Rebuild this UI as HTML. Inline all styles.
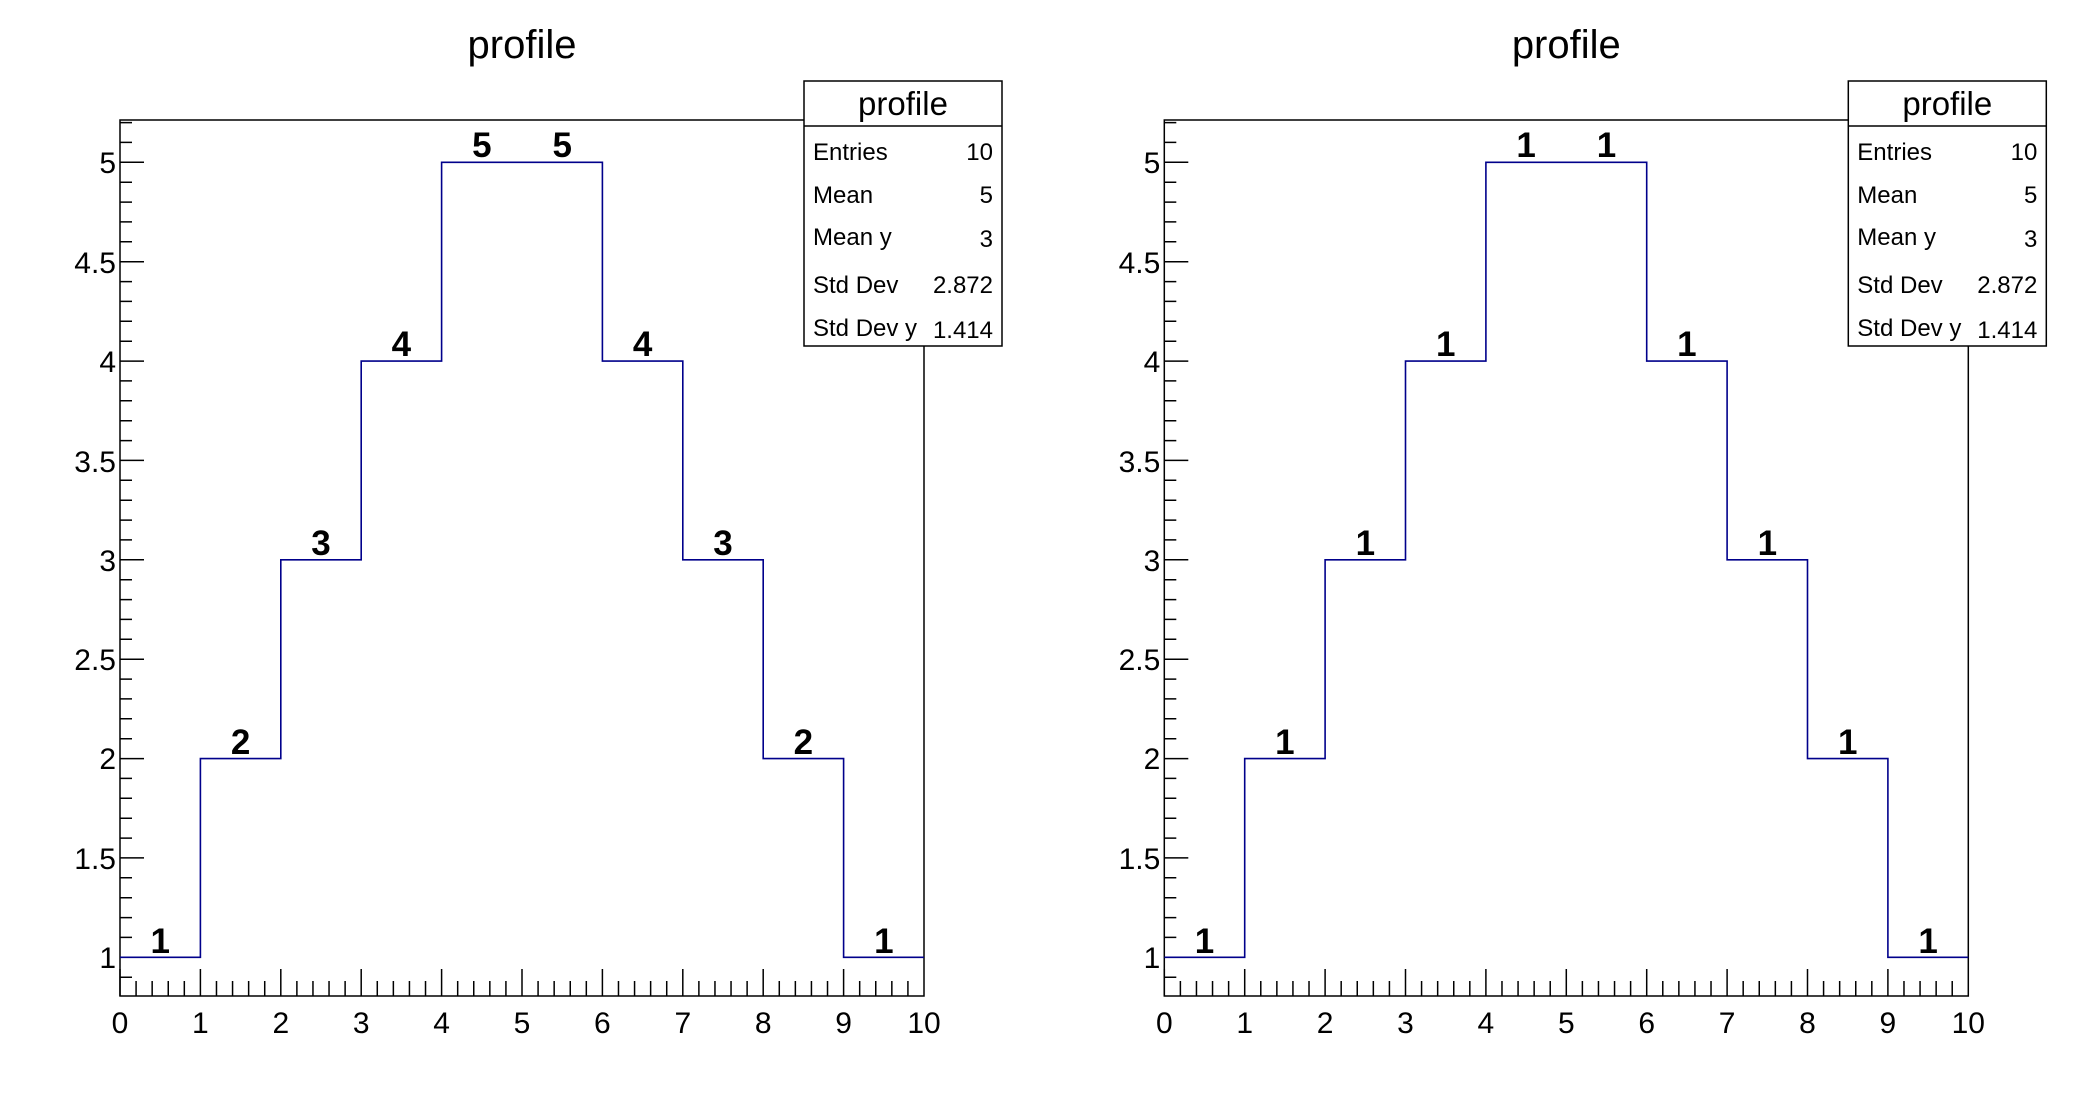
<!DOCTYPE html>
<html><head><meta charset="utf-8"><style>
html,body{margin:0;padding:0;background:#fff;}
svg{display:block;font-family:"Liberation Sans",Arial,sans-serif;}
</style></head><body>
<svg width="2088" height="1116" viewBox="0 0 2088 1116" xmlns="http://www.w3.org/2000/svg">
<defs>
<g id="u" stroke="#000" stroke-width="1.5">
<line x1="0" y1="996" x2="0" y2="969"/>
<line x1="16.08" y1="996" x2="16.08" y2="981"/>
<line x1="32.16" y1="996" x2="32.16" y2="981"/>
<line x1="48.24" y1="996" x2="48.24" y2="981"/>
<line x1="64.32" y1="996" x2="64.32" y2="981"/>
</g>
<g id="axes">
<rect x="120" y="120" width="804" height="876" fill="none" stroke="#000" stroke-width="1.5"/>
<use href="#u" x="120"/><use href="#u" x="200.4"/><use href="#u" x="280.8"/><use href="#u" x="361.2"/><use href="#u" x="441.6"/><use href="#u" x="522"/><use href="#u" x="602.4"/><use href="#u" x="682.8"/><use href="#u" x="763.2"/><use href="#u" x="843.6"/>
<path stroke="#000" stroke-width="1.5" fill="none" d="M120,977.2h12 M120,957.3h24 M120,937.4h12 M120,917.6h12 M120,897.7h12 M120,877.8h12 M120,857.9h24 M120,838.1h12 M120,818.2h12 M120,798.3h12 M120,778.4h12 M120,758.6h24 M120,738.7h12 M120,718.8h12 M120,698.9h12 M120,679.1h12 M120,659.2h24 M120,639.3h12 M120,619.4h12 M120,599.6h12 M120,579.7h12 M120,559.8h24 M120,539.9h12 M120,520.1h12 M120,500.2h12 M120,480.3h12 M120,460.4h24 M120,440.6h12 M120,420.7h12 M120,400.8h12 M120,380.9h12 M120,361.1h24 M120,341.2h12 M120,321.3h12 M120,301.4h12 M120,281.6h12 M120,261.7h24 M120,241.8h12 M120,221.9h12 M120,202.1h12 M120,182.2h12 M120,162.3h24 M120,142.4h12 M120,122.6h12"/>
<path stroke="#00008b" stroke-width="1.6" fill="none" d="M120,957.3 H200.4 V758.6 H280.8 V559.8 H361.2 V361.1 H441.6 V162.3 H602.4 V361.1 H682.8 V559.8 H763.2 V758.6 H843.6 V957.3 H924"/>
<g font-size="30" text-anchor="middle" fill="#000">
<text x="120" y="1033">0</text><text x="200.4" y="1033">1</text><text x="280.8" y="1033">2</text><text x="361.2" y="1033">3</text><text x="441.6" y="1033">4</text><text x="522" y="1033">5</text><text x="602.4" y="1033">6</text><text x="682.8" y="1033">7</text><text x="763.2" y="1033">8</text><text x="843.6" y="1033">9</text><text x="924" y="1033">10</text>
</g>
<g font-size="30" text-anchor="end" fill="#000">
<text x="116" y="968">1</text><text x="116" y="869">1.5</text><text x="116" y="769">2</text><text x="116" y="670">2.5</text><text x="116" y="571">3</text><text x="116" y="472">3.5</text><text x="116" y="372">4</text><text x="116" y="273">4.5</text><text x="116" y="173">5</text>
</g>
<text x="522" y="58" font-size="40" text-anchor="middle">profile</text>
<rect x="804" y="81" width="198" height="265" fill="#fff" stroke="#000" stroke-width="1.5"/>
<line x1="804" y1="126" x2="1002" y2="126" stroke="#000" stroke-width="1.5"/>
<text x="903" y="115" font-size="33" text-anchor="middle">profile</text>
<g font-size="24">
<text x="813" y="160">Entries</text><text x="813" y="203">Mean</text><text x="813" y="245">Mean y</text><text x="813" y="293">Std Dev</text><text x="813" y="336">Std Dev y</text>
</g>
<g font-size="24" text-anchor="end">
<text x="993" y="160">10</text><text x="993" y="203">5</text><text x="993" y="247">3</text><text x="993" y="293">2.872</text><text x="993" y="338">1.414</text>
</g>
</g>
</defs>
<use href="#axes"/>
<g font-size="35" font-weight="bold" text-anchor="middle">
<text x="160.2" y="953">1</text><text x="240.6" y="754">2</text><text x="321" y="555">3</text><text x="401.4" y="356">4</text><text x="481.8" y="157">5</text><text x="562.2" y="157">5</text><text x="642.6" y="356">4</text><text x="723" y="555">3</text><text x="803.4" y="754">2</text><text x="883.8" y="953">1</text>
</g>
<g transform="translate(1044.3,0)">
<use href="#axes"/>
<g font-size="35" font-weight="bold" text-anchor="middle">
<text x="160.2" y="953">1</text><text x="240.6" y="754">1</text><text x="321" y="555">1</text><text x="401.4" y="356">1</text><text x="481.8" y="157">1</text><text x="562.2" y="157">1</text><text x="642.6" y="356">1</text><text x="723" y="555">1</text><text x="803.4" y="754">1</text><text x="883.8" y="953">1</text>
</g>
</g>
</svg>
</body></html>
